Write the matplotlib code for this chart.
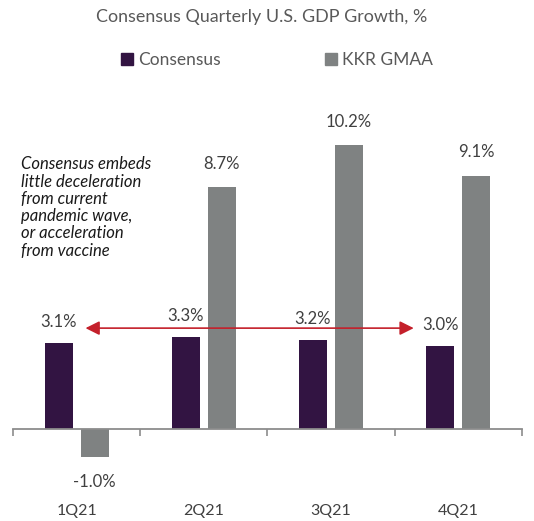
import matplotlib
matplotlib.use("Agg")
import matplotlib.pyplot as plt
from matplotlib.patches import Patch

plt.rcParams['font.family'] = ['Lato', 'DejaVu Sans']

quarters = ["1Q21", "2Q21", "3Q21", "4Q21"]
consensus = [3.1, 3.3, 3.2, 3.0]
kkr_gmaa = [-1.0, 8.7, 10.2, 9.1]
series_names = ["Consensus", "KKR GMAA"]
title = "Consensus Quarterly U.S. GDP Growth, %"
note = ("Consensus embeds\nlittle deceleration\nfrom current\n"
        "pandemic wave,\nor acceleration\nfrom vaccine")

purple = "#321442"
grey = "#7f8282"
text_col = "#404040"

fig = plt.figure(figsize=(5.34, 5.21), dpi=100)
ax = fig.add_axes([0.0243, 0.1125, 0.953, 0.6776])

x = list(range(len(quarters)))
off = 0.142
w = 0.22
ax.bar([i - off for i in x], consensus, width=w, color=purple, zorder=2)
ax.bar([i + off for i in x], kkr_gmaa, width=w, color=grey, zorder=2)

ax.set_xlim(-0.5, 3.5)
ax.set_ylim(-1.2, 11.5)

# value labels
for i, v in enumerate(consensus):
    ax.annotate(f"{v:.1f}%", (i - off, v), xytext=(0, 15), textcoords="offset points",
                ha="center", va="center", fontsize=12, color=text_col)
for i, v in enumerate(kkr_gmaa):
    dy = 17 if v >= 0 else -18
    ax.annotate(f"{v:.1f}%", (i + off, v), xytext=(0, dy), textcoords="offset points",
                ha="center", va="center", fontsize=12, color=text_col)

# baseline with boundary ticks
for s in ["top", "right", "left"]:
    ax.spines[s].set_visible(False)
ax.spines["bottom"].set_position(("data", 0))
ax.spines["bottom"].set_color("#8c8c8c")
ax.spines["bottom"].set_linewidth(1.3)
ax.set_yticks([])
ax.set_xticks([-0.5, 0.5, 1.5, 2.5, 3.5])
ax.set_xticklabels([])
ax.tick_params(axis="x", direction="out", length=5, width=1.2, color="#8c8c8c")
for i, q in enumerate(quarters):
    ax.text(i, -2.95, q, ha="center", va="center", fontsize=11.5, color=text_col)

# red double-headed arrow
ax.annotate("", xy=(0.07, 3.63), xytext=(2.65, 3.63),
            arrowprops=dict(arrowstyle="<|-|>", color="#c4202b", lw=1.2,
                            mutation_scale=21, shrinkA=0, shrinkB=0), zorder=3)

fig.text(0.040, 0.700, note, ha="left", va="top", fontsize=12, style="italic",
         color="#1a1a1a", linespacing=1.1)

fig.text(0.489, 0.967, title, ha="center", va="center", fontsize=12.9, color="#595959")

handles = [Patch(color=purple), Patch(color=grey)]
leg = fig.legend(handles, series_names, loc="center", bbox_to_anchor=(0.519, 0.884),
                 ncol=2, frameon=False, fontsize=12.5, handlelength=0.7, handleheight=0.7,
                 handletextpad=0.3, columnspacing=6.0, labelcolor="#595959")

fig.savefig("out.png", dpi=100)
